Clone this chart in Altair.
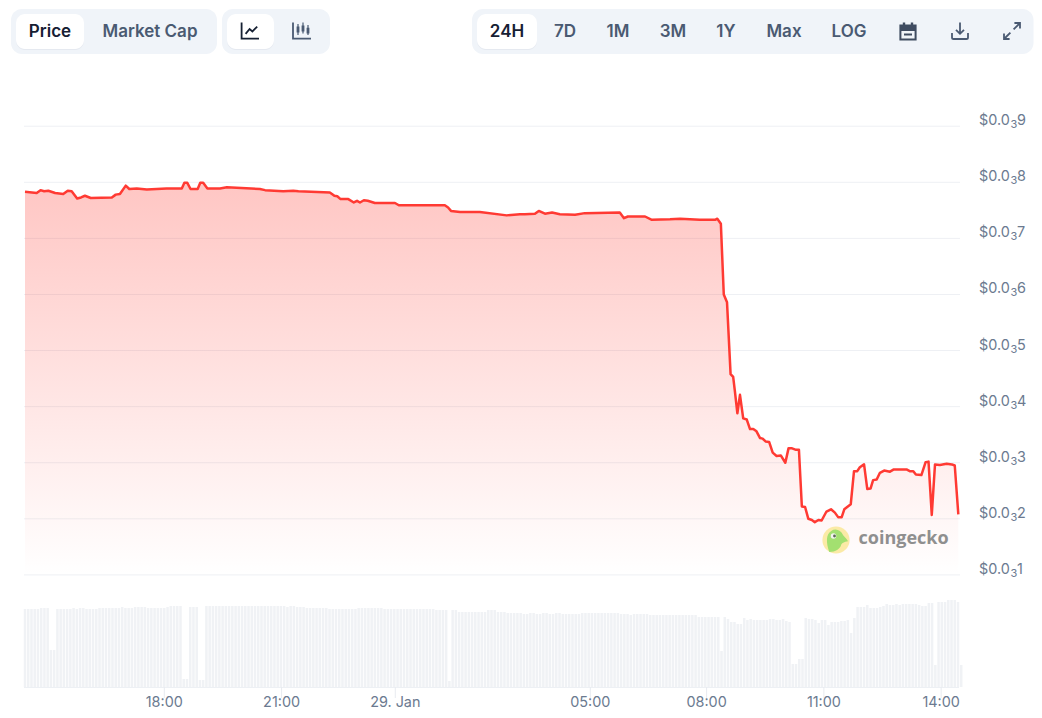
import altair as alt
import pandas as pd

# ---- price series (bar index, price digit after "$0.0₃") ----
price_idx = [0,3.6,4.8,5.9,7.2,9.3,11.8,13.2,14.4,16.1,17.3,18.5,20.3,26.8,28,29.3,31.1,32.2,34.5,37.6,43.7,48.4,49.2,50.1,51.1,53.3,54.1,55,56.3,60.2,62.3,72.5,74.1,79.7,82.8,84.4,94.1,95.5,96.4,97.4,99.8,101.5,102.5,103.4,104.6,105.8,108,114.2,115.4,129.6,130.6,131.5,134.3,140.4,148.7,152.8,
154.3,157.4,158.6,160.5,162.7,165.1,169.8,172.8,183.6,184.9,186.1,191.4,193.5,199.1,202.2,208.3,213,213.7,214.8,215.7,216.7,217.8,218.6,219.1,219.9,220.7,221.7,222.8,223.8,224.8,225.8,226.9,227.7,228.6,229.7,230.8,232,233.3,234.7,235.7,236.6,238,238.9,239.8,240.8,241.8,242.9,243.8,244.9,245.9,247.4,248.8,250,251,252.1,252.9,254.9,255.9,256.9,257.7,259,260,261,261.8,262.9,263.9,265.2,267,268.2,272.1,273.1,274.2,275,276.7,278,278.9,279.9,280.9,282.4,284.5,286.1,287,288.1]
price_val = [7.83,7.81,7.86,7.84,7.85,7.81,7.79,7.85,7.84,7.71,7.73,7.76,7.72,7.73,7.78,7.79,7.94,7.88,7.89,7.87,7.89,7.89,7.99,7.99,7.88,7.88,7.99,7.99,7.89,7.89,7.91,7.88,7.86,7.84,7.85,7.84,7.82,7.76,7.75,7.70,7.70,7.64,7.67,7.64,7.68,7.67,7.63,7.63,7.59,7.59,7.55,7.49,7.47,7.47,7.41,7.43,
7.43,7.44,7.49,7.44,7.46,7.43,7.42,7.45,7.46,7.36,7.39,7.39,7.33,7.34,7.35,7.33,7.33,7.35,7.26,6.00,5.86,4.58,4.53,4.29,3.88,4.21,3.79,3.77,3.60,3.60,3.56,3.44,3.43,3.38,3.37,3.18,3.12,3.13,3.00,3.26,3.26,3.23,3.23,2.22,2.21,2.00,1.98,1.94,1.98,1.97,2.13,2.17,2.11,2.03,2.03,2.17,2.26,2.85,2.85,2.92,2.97,2.53,2.54,2.69,2.70,2.82,2.86,2.84,2.88,2.88,2.85,2.85,2.79,2.78,3.01,3.02,2.07,2.97,2.96,2.98,2.97,2.95,2.08]

# ---- volume bars, one per 5-minute slot (relative height) ----
volume = [78,78,78,78,78,79,79,79,37,37,78,78,78,78,78,79,78,79,79,78,78,78,78,79,79,79,79,79,79,79,80,79,79,79,80,80,80,80,79,79,
79,79,79,79,80,81,81,81,81,8,8,80,80,80,7,7,81,81,81,81,81,81,81,81,81,81,81,81,81,81,81,81,81,81,81,81,81,81,81,81,
81,80,81,81,80,80,80,79,79,79,79,79,79,79,78,78,78,78,78,78,78,78,78,79,79,79,79,79,79,79,79,78,78,78,78,78,78,78,78,78,
78,78,78,78,78,78,78,77,77,77,77,6,77,77,75,75,75,75,75,75,75,75,75,77,77,77,75,75,75,74,74,74,74,74,73,73,74,74,73,
73,74,74,73,73,74,74,73,73,73,73,73,73,74,74,74,74,74,74,74,74,74,74,74,74,73,73,73,72,73,73,73,73,73,72,72,72,72,72,72,
72,72,72,72,72,72,72,72,72,70,70,70,70,70,70,70,36,70,68,65,65,63,63,69,67,68,67,67,67,67,67,68,68,67,67,68,66,65,23,23,
28,28,69,68,68,67,64,67,67,62,65,65,65,66,66,67,54,69,80,80,80,82,79,79,79,80,81,83,82,82,83,82,83,83,83,83,83,82,81,81,
84,84,22,85,85,85,87,87,87,85,22]

# ---- axis content ----
price_ticks = [1,2,3,4,5,6,7,8,9]
price_digit = ["1","2","3","4","5","6","7","8","9"]
time_pos = [43,79.2,114.3,174.5,210.4,246.6,282.8]
time_labels = ["18:00","21:00","29. Jan","05:00","08:00","11:00","14:00"]

# ---- toolbar furniture (chart-frame pixels, not data) ----
panels = [[3,209,1,46],[214,322,1,46],[464,1025.5,1,46]]
actives = [[8,76,6,41],[219,266,6,41],[469,529,6,41]]
buttons = [("Price",42,True),("Market Cap",142,False),("24H",499,True),("7D",557,False),("1M",610,False),
           ("3M",665,False),("1Y",718,False),("Max",776,False),("LOG",841,False)]

FONT = "Inter"
DARK = "#162033"
SLATE = "#4a5a72"
AXIS = "#6b7a90"
GRID = "#eef0f4"
BAR = "#f0f2f5"
RED = "#ff3a33"

X = alt.Scale(domain=[0, 288], range=[17, 950], padding=0)
PY = alt.Scale(domain=[1, 9], range=[566.9, 118.2])
VY = alt.Scale(domain=[0, 87], range=[679, 592])

price_df = pd.DataFrame({"i": price_idx, "p": price_val, "base": [1] * len(price_idx)})
vol_df = pd.DataFrame({"i": list(range(len(volume))), "v": volume})
pt_df = pd.DataFrame({"p": price_ticks, "d": price_digit, "pre": ["$0.0"] * 9, "sub": ["3"] * 9})
tm_df = pd.DataFrame({"i": time_pos, "t": time_labels})


def rects(rows, color, **kw):
    d = pd.DataFrame(rows, columns=["a", "b", "c", "d"])
    return alt.Chart(d).mark_rect(color=color, **kw).encode(
        x=alt.X("a:Q", scale=None, axis=None), x2="b:Q",
        y=alt.Y("c:Q", scale=None, axis=None), y2="d:Q")


def icon(path, cx, cy, size=1600, stroke=None, fill=None, sw=1.8):
    kw = dict(shape=path, size=size, opacity=1)
    if fill:
        kw.update(filled=True, fill=fill, strokeWidth=0)
    else:
        kw.update(filled=False, stroke=stroke, strokeWidth=sw)
    return alt.Chart(pd.DataFrame({"k": [0]})).mark_point(**kw).encode(
        x=alt.value(cx), y=alt.value(cy))


def label(text, cx, cy, **kw):
    return alt.Chart(pd.DataFrame({"t": [text]})).mark_text(**kw).encode(
        x=alt.value(cx), y=alt.value(cy), text="t:N")


layers = [
    rects(panels, "#f0f4f9", cornerRadius=11),
    rects([[r[0], r[1], r[2] + 1, r[3] + 1] for r in actives], "#dfe4ec", cornerRadius=9, opacity=0.7),
    rects(actives, "#ffffff", cornerRadius=9),
]
for text, cx, active in buttons:
    layers.append(label(text, cx, 24, font=FONT, fontSize=17, fontWeight=600,
                        color=DARK if active else SLATE, align="center", baseline="middle"))

# icons
layers += [
    icon("M-.42 -.42 V.38 H.45", 242, 23, stroke=DARK),
    icon("M-.22 .14 L-.02 -.1 L.12 .02 L.36 -.22", 242, 23, stroke=DARK),
    icon("M-.45 -.42 V.38 H.45", 294, 23, stroke=SLATE),
    icon("M-.2 -.35 V.2 M.05 -.42 V.12 M.3 -.3 V.2", 294, 23, stroke=SLATE, sw=1.2),
    icon("M-.27 -.22 H-.13 V.08 H-.27 Z M-.02 -.28 H.12 V.02 H-.02 Z M.23 -.16 H.37 V.12 H.23 Z", 294, 23, fill=SLATE),
    icon("M-.38 -.3 H.38 V.4 H-.38 Z", 900, 23.5, stroke="#3f4c61", sw=2),
    icon("M-.38 -.3 H.38 V-.02 H-.38 Z M-.2 .1 H.2 V.2 H-.2 Z M-.26 -.45 H-.14 V-.28 H-.26 Z M.14 -.45 H.26 V-.28 H.14 Z", 900, 23.5, fill="#3f4c61"),
    icon("M0 -.42 V.12 M-.2 -.06 L0 .14 L.2 -.06 M-.4 .1 V.32 Q-.4 .4 -.32 .4 H.32 Q.4 .4 .4 .32 V.1", 952, 23, stroke=SLATE),
    icon("M.08 -.08 L.4 -.4 M.12 -.4 H.4 V-.12 M-.08 .08 L-.4 .4 M-.4 .12 V.4 H-.12", 1004, 23, stroke=SLATE),
]

# grid, bars, area, line
layers += [
    alt.Chart(pt_df).mark_rule(color=GRID, strokeWidth=1).encode(
        y=alt.Y("p:Q", scale=PY, axis=None), x=alt.value(16), x2=alt.value(952)),
    alt.Chart(vol_df).mark_bar(size=2.5, color=BAR).encode(
        x=alt.X("i:Q", scale=X, axis=None), y=alt.Y("v:Q", scale=VY, axis=None, stack=None)),
    alt.Chart(pd.DataFrame({"k": [0]})).mark_rule(color="#edf0f4", strokeWidth=1).encode(
        x=alt.value(16), x2=alt.value(951), y=alt.value(679.5)),
    alt.Chart(tm_df).mark_rule(color="#e8ebf0", strokeWidth=1).encode(
        x=alt.X("i:Q", scale=X, axis=None), y=alt.value(679), y2=alt.value(690)),
    alt.Chart(tm_df).mark_text(font=FONT, fontSize=14.4, color=AXIS, align="center", baseline="alphabetic").encode(
        x=alt.X("i:Q", scale=X, axis=None), y=alt.value(699), text="t:N"),
    alt.Chart(pt_df).mark_text(font=FONT, fontSize=14.4, color=AXIS, align="left", baseline="middle", dy=-5).encode(
        y=alt.Y("p:Q", scale=PY, axis=None), x=alt.value(971), text="pre:N"),
    alt.Chart(pt_df).mark_text(font=FONT, fontSize=11, color=AXIS, align="left", baseline="middle", dy=-1).encode(
        y=alt.Y("p:Q", scale=PY, axis=None), x=alt.value(1002.5), text="sub:N"),
    alt.Chart(pt_df).mark_text(font=FONT, fontSize=14.4, color=AXIS, align="left", baseline="middle", dy=-5).encode(
        y=alt.Y("p:Q", scale=PY, axis=None), x=alt.value(1009), text="d:N"),
    alt.Chart(price_df).mark_area(
        line=False,
        color=alt.Gradient(gradient="linear", x1=0, x2=0, y1=0, y2=1,
                           stops=[alt.GradientStop(color="rgba(255,45,35,0.27)", offset=0),
                                  alt.GradientStop(color="rgba(255,45,35,0)", offset=1)])
    ).encode(x=alt.X("i:Q", scale=X, axis=None), y=alt.Y("p:Q", scale=PY, axis=None), y2="base:Q"),
    alt.Chart(price_df).mark_line(color=RED, strokeWidth=2.5, strokeJoin="round").encode(
        x=alt.X("i:Q", scale=X, axis=None), y=alt.Y("p:Q", scale=PY, axis=None)),
]

# watermark
layers += [
    alt.Chart(pd.DataFrame({"k": [0]})).mark_point(filled=True, shape="circle", size=740, color="#fbeaa6", opacity=1).encode(
        x=alt.value(828), y=alt.value(532)),
    icon("M-.28 .5 C-.42 .1 -.42 -.25 -.2 -.38 C-.02 -.5 .2 -.42 .3 -.2 C.38 -.1 .48 -.02 .5 .05 C.35 .08 .22 .12 .2 .25 C.15 .35 0 .5 -.28 .5 Z",
         828, 532, size=2300, fill="#a3e070"),
    alt.Chart(pd.DataFrame({"k": [0]})).mark_point(filled=True, shape="circle", size=30, color="#f4f4f0", opacity=1).encode(
        x=alt.value(825.5), y=alt.value(528)),
    alt.Chart(pd.DataFrame({"k": [0]})).mark_point(filled=True, shape="circle", size=8, color="#5c6b55", opacity=1).encode(
        x=alt.value(826.5), y=alt.value(528)),
    label("coingecko", 850.5, 531, font="Open Sans", fontSize=18, fontWeight=700, color="#8a8a8a",
          align="left", baseline="middle", opacity=0.95),
]

chart = alt.layer(*layers).resolve_scale(x="independent", y="independent").properties(
    width=1026, height=702, padding=0, autosize=alt.AutoSizeParams(type="none")
).configure_view(stroke=None)

chart.save("out.html", embed_options={"renderer": "svg", "actions": False})
